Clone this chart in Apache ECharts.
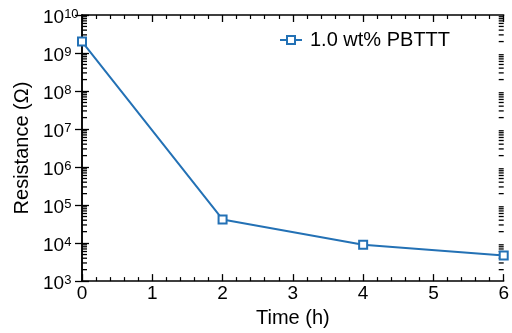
<!DOCTYPE html>
<html>
<head>
<meta charset="utf-8">
<script src="https://cdn.jsdelivr.net/npm/echarts@6/dist/echarts.min.js"></script>
<style>
  html, body { margin: 0; padding: 0; background: #fff; }
  #chart { width: 512px; height: 333px; }
</style>
</head>
<body>
<div id="chart"></div>
<script>
// Resistance of the 1.0 wt% PBTTT sample versus time
const seriesName = '1.0 wt% PBTTT';
const times = [0, 2, 4, 6];                       // h
const resistance = [2.0e9, 4.2e4, 9.0e3, 4.7e3];  // Ω
const xTicks = [0, 1, 2, 3, 4, 5, 6];
const yDecades = [3, 4, 5, 6, 7, 8, 9, 10];       // exponents of the labelled decades

const lineColor = '#2371b5';
const font = 'Liberation Sans, Arial, sans-serif';

// minor ticks at 2..9 inside each decade of the log axis
const minorTicks = [];
for (let i = 0; i < yDecades.length - 1; i++) {
  for (let m = 2; m <= 9; m++) minorTicks.push([xTicks[0], m * Math.pow(10, yDecades[i])]);
}

const chart = echarts.init(document.getElementById('chart'), null, { renderer: 'canvas' });

const axisLineStyle = { color: '#000', width: 1.5 };
const majorTick = { inside: true, length: 7, lineStyle: { color: '#000', width: 1.3 } };
const xMinorTick = { show: true, splitNumber: 5, length: 4, lineStyle: { color: '#000', width: 1.2 } };

chart.setOption({
  animation: false,
  backgroundColor: '#fff',
  grid: { left: 82, right: 5, top: 15, bottom: 50, containLabel: false },
  legend: {
    data: [seriesName],
    left: 279,
    top: 30,
    padding: 0,
    itemWidth: 22,
    itemHeight: 10,
    textStyle: { fontFamily: font, fontSize: 20, color: '#000', padding: [0, 0, 0, 3] }
  },
  xAxis: [{
    type: 'value',
    min: xTicks[0],
    max: xTicks[xTicks.length - 1],
    interval: 1,
    name: 'Time (h)',
    nameLocation: 'middle',
    nameGap: 21,
    nameTextStyle: { fontFamily: font, fontSize: 20, color: '#000' },
    axisLine: { lineStyle: axisLineStyle },
    axisTick: majorTick,
    minorTick: xMinorTick,
    axisLabel: { fontFamily: font, fontSize: 19, color: '#000', margin: 3 },
    splitLine: { show: false }
  }, {
    type: 'value',
    position: 'top',
    min: xTicks[0],
    max: xTicks[xTicks.length - 1],
    interval: 1,
    axisLine: { lineStyle: axisLineStyle },
    axisTick: majorTick,
    minorTick: xMinorTick,
    axisLabel: { show: false },
    splitLine: { show: false }
  }],
  yAxis: [{
    type: 'log',
    logBase: 10,
    min: Math.pow(10, yDecades[0]),
    max: Math.pow(10, yDecades[yDecades.length - 1]),
    interval: 1,
    name: 'Resistance (\u03A9)',
    nameLocation: 'middle',
    nameGap: 48,
    nameTextStyle: { fontFamily: font, fontSize: 20, color: '#000' },
    axisLine: { lineStyle: axisLineStyle },
    axisTick: majorTick,
    axisLabel: {
      align: 'left',
      margin: 39,
      padding: [5, 0, 0, 0],
      formatter: v => '{b|10}{s|' + Math.round(Math.log10(v)) + '}',
      rich: {
        b: { fontFamily: font, fontSize: 19, lineHeight: 19, color: '#000' },
        s: { fontFamily: font, fontSize: 13, lineHeight: 13, color: '#000', verticalAlign: 'top' }
      }
    },
    splitLine: { show: false }
  }, {
    type: 'log',
    logBase: 10,
    position: 'right',
    min: Math.pow(10, yDecades[0]),
    max: Math.pow(10, yDecades[yDecades.length - 1]),
    interval: 1,
    axisLine: { lineStyle: axisLineStyle },
    axisTick: majorTick,
    axisLabel: { show: false },
    splitLine: { show: false }
  }],
  series: [{
    name: 'minor ticks',
    type: 'custom',
    silent: true,
    clip: false,
    z: 5,
    data: minorTicks,
    renderItem: (params, api) => {
      const p0 = api.coord([xTicks[0], api.value(1)]);
      const p1 = api.coord([xTicks[xTicks.length - 1], api.value(1)]);
      return {
        type: 'group',
        children: [
          { type: 'line', shape: { x1: p0[0], y1: p0[1], x2: p0[0] + 5, y2: p0[1] }, style: { stroke: '#000', lineWidth: 1.3 } },
          { type: 'line', shape: { x1: p1[0] - 5, y1: p1[1], x2: p1[0], y2: p1[1] }, style: { stroke: '#000', lineWidth: 1.3 } }
        ]
      };
    }
  }, {
    name: seriesName,
    type: 'line',
    z: 10,
    data: times.map((t, i) => [t, resistance[i]]),
    clip: false,
    symbol: 'emptyRect',
    symbolSize: 8,
    color: lineColor,
    lineStyle: { color: lineColor, width: 2 },
    itemStyle: { color: lineColor, borderColor: lineColor, borderWidth: 1.5 }
  }]
});
</script>
</body>
</html>
